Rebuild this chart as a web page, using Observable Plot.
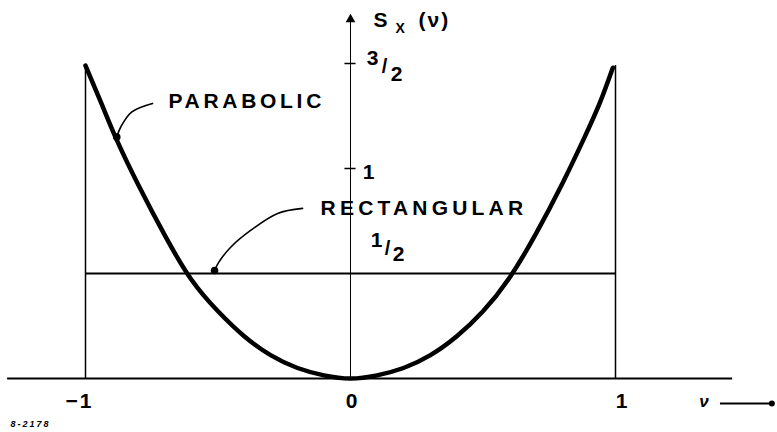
<!DOCTYPE html>
<html>
<head>
<meta charset="utf-8">
<script src="https://cdn.jsdelivr.net/npm/d3@7"></script>
<script src="https://cdn.jsdelivr.net/npm/@observablehq/plot@0.6"></script>
<style>
  html, body { margin: 0; padding: 0; background: #fff; }
  #chart svg text { letter-spacing: 2px; }
</style>
</head>
<body>
<div id="chart"></div>
<script>
// Spectral density S_x(ν) of two windows on ν ∈ [−1, 1]
const nu        = [-1, -0.94, -0.88, -0.8, -0.7, -0.6, -0.5, -0.4, -0.3, -0.2, -0.1, 0, 0.1, 0.2, 0.3, 0.4, 0.5, 0.6, 0.7, 0.8, 0.88, 0.94, 0.99];
const parabolic = [1.49, 1.31, 1.13, 0.92, 0.68, 0.47, 0.32, 0.2, 0.11, 0.05, 0.015, 0, 0.015, 0.05, 0.11, 0.2, 0.32, 0.48, 0.69, 0.93, 1.14, 1.31, 1.48];
const rectangularLevel = 0.5;
const bandEdges = [-1, 1];

// Tick values and their labels
const xTicks = [-1, 0, 1];
const xTickLabels = ["−1", "0", "1"];
const yTicks = [1, 1.5];
const seriesNames = ["PARABOLIC", "RECTANGULAR"];

// Leader curves from the series names to their curves (ν, S)
const parabolicLeaderNu = [-0.747, -0.825, -0.866, -0.882];
const parabolicLeaderS  = [1.31, 1.27, 1.2, 1.15];
const rectLeaderNu = [-0.181, -0.275, -0.377, -0.453, -0.498, -0.513];
const rectLeaderS  = [0.81, 0.786, 0.705, 0.624, 0.552, 0.514];

const curve = nu.map((v, i) => ({nu: v, s: parabolic[i]}));
const leaderP = parabolicLeaderNu.map((v, i) => ({nu: v, s: parabolicLeaderS[i]}));
const leaderR = rectLeaderNu.map((v, i) => ({nu: v, s: rectLeaderS[i]}));

const font = "Liberation Sans, Arial, sans-serif";
const txt = {fontFamily: font, fontWeight: "bold", fill: "black"};

const chart = Plot.plot({
  width: 777,
  height: 432,
  x: {domain: [-1, 1], range: [85, 615], axis: null},
  y: {domain: [0, 1.5], range: [378, 63], axis: null},
  style: {background: "white"},
  marks: [
    // ν axis
    Plot.ruleY([0], {x1: -1.294, x2: 1.442, stroke: "black", strokeWidth: 2}),
    // S axis with arrowhead
    Plot.ruleX([0], {y1: 0, y2: 1.72, stroke: "black", strokeWidth: 1}),
    Plot.dot([1.71], {x: 0, y: d => d, symbol: "triangle", r: 3.6, fill: "black", stroke: null}),
    Plot.ruleY(yTicks, {x1: -0.021, x2: 0.021, stroke: "black", strokeWidth: 1.5}),
    // band edges
    Plot.ruleX(bandEdges, {y1: 0, y2: 1.49, stroke: "black", strokeWidth: 1.5}),
    // rectangular window
    Plot.ruleY([rectangularLevel], {x1: -1, x2: 1, stroke: "black", strokeWidth: 2}),
    // parabolic window
    Plot.line(curve, {x: "nu", y: "s", curve: "natural", stroke: "black", strokeWidth: 4.5, strokeLinecap: "round"}),
    // leaders
    Plot.line(leaderP, {x: "nu", y: "s", curve: "catmull-rom", stroke: "black", strokeWidth: 1.6}),
    Plot.dot([leaderP[leaderP.length - 1]], {x: "nu", y: "s", r: 3.8, fill: "black", stroke: null}),
    Plot.line(leaderR, {x: "nu", y: "s", curve: "catmull-rom", stroke: "black", strokeWidth: 1.6}),
    Plot.dot([leaderR[leaderR.length - 1]], {x: "nu", y: "s", r: 3.8, fill: "black", stroke: null}),
    // series names
    Plot.text([seriesNames[0]], {x: -0.687, y: 1.319, text: d => d, textAnchor: "start", fontSize: 21, ...txt}),
    Plot.text([seriesNames[1]], {x: -0.113, y: 0.81, text: d => d, textAnchor: "start", fontSize: 21, ...txt}),
    // S axis title
    Plot.text(["S"], {x: 0.087, y: 1.705, text: d => d, textAnchor: "start", fontSize: 21, ...txt}),
    Plot.text(["X"], {x: 0.17, y: 1.667, text: d => d, textAnchor: "start", fontSize: 14, ...txt}),
    Plot.text(["(ν)"], {x: 0.257, y: 1.705, text: d => d, textAnchor: "start", fontSize: 21, ...txt}),
    // S tick labels
    Plot.text(["3"], {x: 0, y: 1.5, text: d => d, dx: 23, dy: -5, fontSize: 21, ...txt}),
    Plot.text(["/"], {x: 0, y: 1.5, text: d => d, dx: 35, dy: 3, fontSize: 20, ...txt}),
    Plot.text(["2"], {x: 0, y: 1.5, text: d => d, dx: 47, dy: 11, fontSize: 21, ...txt}),
    Plot.text(["1"], {x: 0, y: 1, text: d => d, dx: 19, dy: 4, fontSize: 21, ...txt}),
    Plot.text(["1"], {x: 0, y: rectangularLevel, text: d => d, dx: 27, dy: -33, fontSize: 21, ...txt}),
    Plot.text(["/"], {x: 0, y: rectangularLevel, text: d => d, dx: 38, dy: -25, fontSize: 20, ...txt}),
    Plot.text(["2"], {x: 0, y: rectangularLevel, text: d => d, dx: 49, dy: -19, fontSize: 21, ...txt}),
    // ν tick labels
    Plot.text([xTicks[0]], {x: d => d, y: 0, text: () => xTickLabels[0], dx: -6, dy: 23, fontSize: 21, ...txt}),
    Plot.text([xTicks[1]], {x: d => d, y: 0, text: () => xTickLabels[1], dx: 2, dy: 23, fontSize: 21, ...txt}),
    Plot.text([xTicks[2]], {x: d => d, y: 0, text: () => xTickLabels[2], dx: 7, dy: 23, fontSize: 21, ...txt}),
    // ν axis title with arrow
    Plot.text(["ν"], {x: 1.338, y: -0.112, text: d => d, fontSize: 17, fontStyle: "italic", ...txt}),
    Plot.ruleY([-0.119], {x1: 1.396, x2: 1.59, stroke: "black", strokeWidth: 2}),
    Plot.dot([1.59], {x: d => d, y: -0.119, r: 3, fill: "black", stroke: null}),
    // drawing number
    Plot.text(["8-2178"], {x: -1.283, y: -0.219, text: d => d, textAnchor: "start", fontSize: 9, fontStyle: "italic", ...txt})
  ]
});

// wider lettering on the series names
d3.select(chart).selectAll("text")
  .filter(function () { return this.textContent === seriesNames[0]; })
  .style("letter-spacing", "3.7px");
d3.select(chart).selectAll("text")
  .filter(function () { return this.textContent === seriesNames[1]; })
  .style("letter-spacing", "4.2px");

document.getElementById("chart").appendChild(chart);
</script>
</body>
</html>
